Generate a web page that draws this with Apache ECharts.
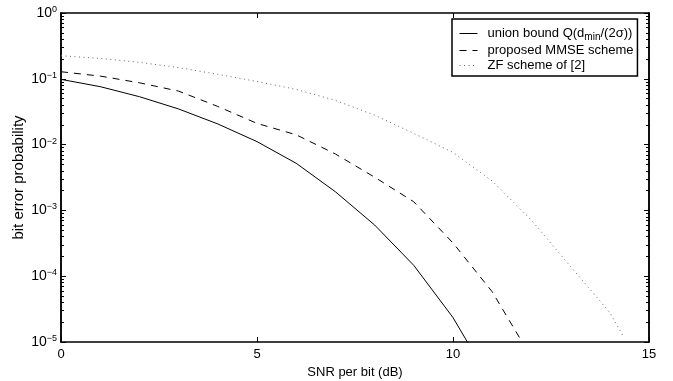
<!DOCTYPE html>
<html>
<head>
<meta charset="utf-8">
<script src="https://cdn.jsdelivr.net/npm/echarts@6/dist/echarts.min.js"></script>
<style>
  html, body { margin: 0; padding: 0; background: #fff; }
  #chart { width: 673px; height: 381px; }
</style>
</head>
<body>
<div id="chart"></div>
<script>
// SNR per bit (dB)
const snrDb = [0, 1, 2, 3, 4, 5, 6, 7, 8, 9, 10, 11, 12]
const zfSnrDb = [0, 1, 2, 3, 4, 5, 6, 7, 8, 9, 10, 11, 12, 13, 14, 14.35]

// bit error probability
const unionBound = [0.098, 0.076, 0.0535, 0.0348, 0.0206, 0.0111, 0.0052, 0.00192, 6.0e-4, 1.46e-4, 2.35e-5, 2.3e-6]
const mmse = [0.128, 0.11, 0.087, 0.065, 0.038, 0.021, 0.0141, 0.0072, 0.0032, 0.00135, 3.2e-4, 5.8e-5, 5.8e-6]
const zf = [0.224, 0.204, 0.178, 0.148, 0.117, 0.091, 0.069, 0.047, 0.028, 0.0148, 0.0076, 0.0028, 7.1e-4, 1.4e-4, 2.8e-5, 1.2e-5]

const seriesNames = ['union bound Q(d_min/(2σ))', 'proposed MMSE scheme', 'ZF scheme of [2]']

const xTicks = [0, 5, 10, 15]
const yMajor = [1e-5, 1e-4, 1e-3, 1e-2, 1e-1, 1]
const yMinor = []
for (let k = -5; k < 0; k++) {
  for (let m = 2; m <= 9; m++) yMinor.push(m * Math.pow(10, k))
}

const pairs = (xs, ys) => ys.map((y, i) => [xs[i], y])

const font = 'Liberation Sans, Arial, sans-serif'
const black = '#000'

function yAxisBase(position, values, len) {
  return {
    type: 'log',
    logBase: 10,
    min: 1e-5,
    max: 1,
    position,
    axisLine: { show: true, lineStyle: { color: black, width: 1.5 } },
    axisTick: { show: true, inside: true, length: len, customValues: values, lineStyle: { color: black } },
    minorTick: { show: false },
    splitLine: { show: false },
    axisLabel: { show: false }
  }
}

const yMain = yAxisBase('left', yMajor, 5)
yMain.name = 'bit error probability'
yMain.nameLocation = 'middle'
yMain.nameGap = 35
yMain.nameMoveOverlap = false
yMain.nameTextStyle = { fontFamily: font, fontSize: 15, color: black }
yMain.axisLabel = {
  show: true,
  customValues: yMajor,
  margin: 4,
  fontFamily: font,
  color: black,
  formatter: v => '{b|10}{sup|' + String(Math.round(Math.log10(v))).replace('-', '\u2212') + '}',
  rich: {
    b: { fontFamily: font, fontSize: 14, color: black },
    sup: { fontFamily: font, fontSize: 9, color: black, verticalAlign: 'top', padding: [0, 0, 7, 0] }
  }
}

function xAxisBase(position) {
  return {
    type: 'value',
    min: 0,
    max: 15,
    interval: 5,
    position,
    axisLine: { show: true, onZero: false, lineStyle: { color: black, width: 1.5 } },
    axisTick: { show: true, inside: true, length: 5, lineStyle: { color: black } },
    splitLine: { show: false },
    axisLabel: { show: false }
  }
}

const xMain = xAxisBase('bottom')
xMain.name = 'SNR per bit (dB)'
xMain.nameLocation = 'middle'
xMain.nameGap = 24
xMain.nameMoveOverlap = false
xMain.nameTextStyle = { fontFamily: font, fontSize: 13, color: black }
xMain.axisLabel = { show: true, margin: 6, fontFamily: font, fontSize: 13, color: black, customValues: xTicks }

const chart = echarts.init(document.getElementById('chart'), null, { renderer: 'canvas' })

chart.setOption({
  animation: false,
  backgroundColor: '#fff',
  grid: { left: 61, right: 24, top: 13, bottom: 39, containLabel: false, outerBoundsMode: 'none' },
  xAxis: [xMain, xAxisBase('top')],
  yAxis: [
    yMain,
    yAxisBase('left', yMinor, 3),
    yAxisBase('right', yMajor, 5),
    yAxisBase('right', yMinor, 3)
  ],
  legend: {
    orient: 'vertical',
    left: 452,
    top: 19,
    padding: [8, 4, 4, 7],
    itemWidth: 18,
    itemHeight: 10,
    itemGap: 2,
    borderColor: black,
    borderWidth: 1.5,
    backgroundColor: '#fff',
    itemStyle: { opacity: 0 },
    lineStyle: { width: 1 },
    data: seriesNames,
    formatter: name => name === seriesNames[0] ? 'union bound Q(d{sub|min}/(2σ))' : name,
    textStyle: {
      fontFamily: font,
      fontSize: 13,
      color: black,
      padding: [0, 0, 0, 5],
      rich: {
        sub: { fontFamily: font, fontSize: 10, color: black, verticalAlign: 'bottom', padding: [7, 0, 0, 0] }
      }
    }
  },
  series: [
    {
      name: seriesNames[0],
      type: 'line',
      symbol: 'none',
      lineStyle: { color: black, width: 1, type: 'solid' },
      itemStyle: { color: black },
      data: pairs(snrDb, unionBound)
    },
    {
      name: seriesNames[1],
      type: 'line',
      symbol: 'none',
      lineStyle: { color: black, width: 1, type: [7, 6] },
      itemStyle: { color: black },
      data: pairs(snrDb, mmse)
    },
    {
      name: seriesNames[2],
      type: 'line',
      symbol: 'none',
      lineStyle: { color: '#666', width: 1, type: [1, 3.5] },
      itemStyle: { color: '#666' },
      data: pairs(zfSnrDb, zf)
    }
  ]
})
</script>
</body>
</html>
